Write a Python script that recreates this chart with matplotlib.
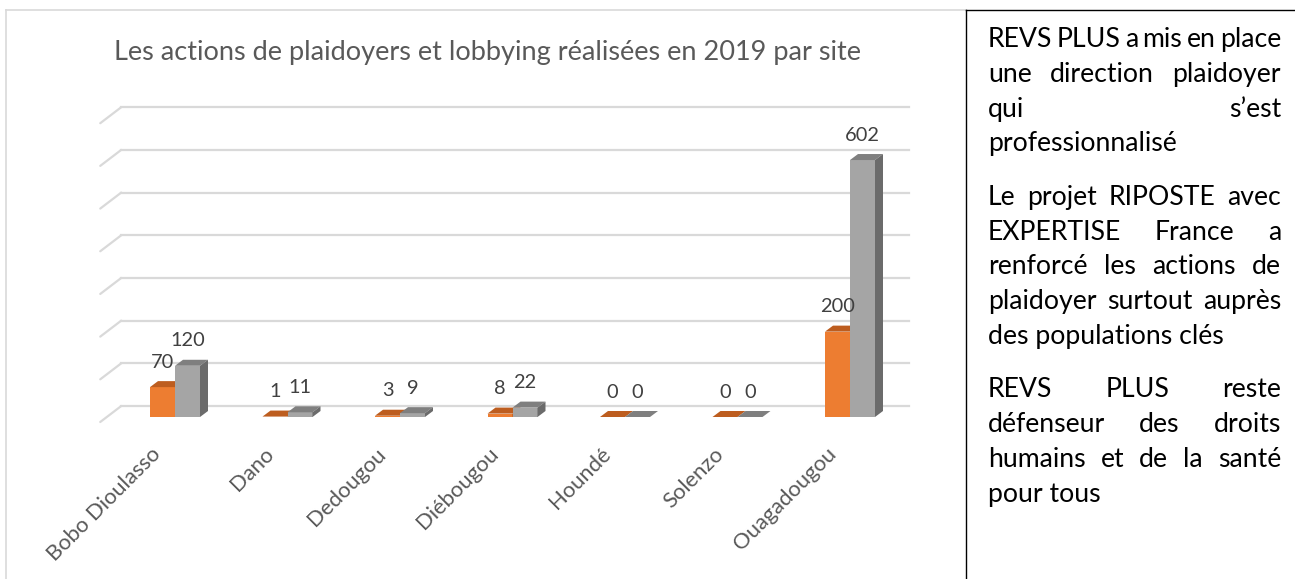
import matplotlib
matplotlib.use("Agg")
import matplotlib.pyplot as plt
import numpy as np
from matplotlib.patches import Polygon
from matplotlib.transforms import offset_copy
from matplotlib.lines import Line2D

# ---------------- data ----------------
categories = ["Bobo Dioulasso", "Dano", "Dedougou", "Diébougou", "Houndé", "Solenzo", "Ouagadougou"]
series_orange = [70, 1, 3, 8, 0, 0, 200]
series_gray = [120, 11, 9, 22, 0, 0, 602]
grid_values = [0, 100, 200, 300, 400, 500, 600, 700]
title = "Les actions de plaidoyers et lobbying réalisées en 2019 par site"
paragraphs = [
    ["REVS PLUS a mis en place", "une direction plaidoyer", "qui s’est", "professionnalisé"],
    ["Le projet RIPOSTE avec", "EXPERTISE France a", "renforcé les actions de",
     "plaidoyer surtout auprès", "des populations clés"],
    ["REVS PLUS reste", "défenseur des droits", "humains et de la santé", "pour tous"],
]

# ---------------- style ----------------
FONT = "Lato"
ORANGE, ORANGE_TOP, ORANGE_SIDE = "#ED7D31", "#BD5D1F", "#A9521A"
GRAY, GRAY_TOP, GRAY_SIDE = "#A5A5A5", "#7F7F7F", "#6B6B6B"
GRID = "#D9D9D9"
W, H = 1295, 579

plt.rcParams["font.family"] = [FONT, "DejaVu Sans"]
fig = plt.figure(figsize=(W / 100, H / 100), dpi=100)
renderer = fig.canvas.get_renderer()


def px(x, y):
    """pixel (from top-left) -> figure fraction"""
    return x / W, 1 - y / H


def text_width(s, size, **kw):
    t = fig.text(0, 0, s, fontsize=size, **kw)
    w = t.get_window_extent(renderer).width
    t.remove()
    return w


def fit(s, target, **kw):
    return 10 * target / text_width(s, 10, **kw)


# ---------------- chart axes ----------------
x0_px, x1_px = 118.75, 906.25      # xlim edges in pixels
y0_px, y1_px = 417.0, 118.2        # value 0 and 700 in pixels
ax = fig.add_axes([x0_px / W, 1 - y0_px / H, (x1_px - x0_px) / W, (y0_px - y1_px) / H])
ax.set_xlim(-0.5, len(categories) - 0.5)
ax.set_ylim(0, 700)
ax.axis("off")

# back-plane gridlines with perspective
back = offset_copy(ax.transData, fig=fig, x=2.5, y=11, units="dots")
xl, xr = ax.get_xlim()
for v in grid_values:
    ax.add_line(Line2D([xl, xr], [v, v], transform=offset_copy(ax.transData, fig=fig, x=2.5, y=11, units="dots"),
                       color=GRID, lw=1.6, zorder=1, clip_on=False))
    ax.annotate("", xy=(xl, v), xycoords=back, xytext=(-21, -16), textcoords="offset pixels",
                arrowprops=dict(arrowstyle="-", color=GRID, lw=1.6, shrinkA=0, shrinkB=0),
                annotation_clip=False, zorder=1)

x = np.arange(len(categories))
bw = 25 / 112.5
DEPTH = (8, 6)  # pixels


def shifted(pts):
    d = ax.transData.transform(pts) + np.array(DEPTH)
    return ax.transData.inverted().transform(d)


def bar3d(xc, vals, front, top, side, z):
    ax.bar(xc, vals, width=bw, color=front, zorder=z, linewidth=0)
    for xi, v in zip(xc, vals):
        a, b = xi - bw / 2, xi + bw / 2
        fr = np.array([[a, v], [b, v]])
        bk = shifted(fr)
        ax.add_patch(Polygon([fr[0], fr[1], bk[1], bk[0]], closed=True, color=top, lw=0, zorder=z))
        s = np.array([[b, 0], [b, v]])
        sb = shifted(s)
        ax.add_patch(Polygon([s[0], s[1], sb[1], sb[0]], closed=True, color=side, lw=0, zorder=z))


bar3d(x - bw / 2, series_orange, ORANGE, ORANGE_TOP, ORANGE_SIDE, 3)
bar3d(x + bw / 2, series_gray, GRAY, GRAY_TOP, GRAY_SIDE, 4)

# data labels
lab_size = fit("120", 35)
for xi, v in zip(x - bw / 2, series_orange):
    ax.annotate(str(v), xy=(xi, v), xytext=(0, 25), textcoords="offset pixels", ha="center", va="center",
                fontsize=lab_size, color="#404040", zorder=6, annotation_clip=False)
for xi, v in zip(x + bw / 2, series_gray):
    ax.annotate(str(v), xy=(xi, v), xytext=(0, 25), textcoords="offset pixels", ha="center", va="center",
                fontsize=lab_size, color="#404040", zorder=6, annotation_clip=False)

# category labels
cat_size = fit("Bobo Dioulasso", 152)
for xi, c in zip(x, categories):
    ax.annotate(c, xy=(xi, 0), xytext=(-17, -34), textcoords="offset pixels", rotation=45,
                rotation_mode="anchor", ha="right", va="center", fontsize=cat_size, color="#595959",
                annotation_clip=False)

# title
t_size = fit(title, 748)
fig.text(*px(488, 60), title, ha="center", va="baseline", fontsize=t_size, color="#595959")

# chart area border (light gray) and text box border (black)
fig.add_artist(Line2D([6 / W, 966 / W], [1 - 10 / H] * 2, transform=fig.transFigure, color=GRID, lw=1.2))
fig.add_artist(Line2D([6 / W, 6 / W], [1 - 10 / H, 0], transform=fig.transFigure, color=GRID, lw=1.2))
fig.add_artist(Line2D([966 / W, 966 / W], [1 - 10 / H, 0], transform=fig.transFigure, color="black", lw=1.0))
fig.add_artist(Line2D([966 / W, 1], [1 - 10 / H] * 2, transform=fig.transFigure, color="black", lw=1.0))

# justified paragraphs
left, right = 988, 1281
box_w = right - left
fits = sorted([fit("professionnalisé", 190), fit("des populations clés", 239), fit("pour tous", 113)])
body_size = fits[1]
# make sure the widest justified lines still fit with a minimal word gap
for line in ["REVS PLUS a mis en place", "plaidoyer surtout auprès", "renforcé les actions de"]:
    n = len(line.split(" ")) - 1
    body_size = min(body_size, fit(line.replace(" ", ""), box_w - n * 4))
line_gap, para_gap = 34.8, 53.3
y = 47
for p in paragraphs:
    for li, line in enumerate(p):
        last = li == len(p) - 1
        words = line.split(" ")
        if last or len(words) == 1:
            fig.text(*px(left, y), line, fontsize=body_size, ha="left", va="baseline", color="black")
        else:
            widths = [text_width(w_, body_size) for w_ in words]
            gap = (box_w - sum(widths)) / (len(words) - 1)
            xx = left
            for w_, wd in zip(words, widths):
                fig.text(*px(xx, y), w_, fontsize=body_size, ha="left", va="baseline", color="black")
                xx += wd + gap
        y += para_gap if last else line_gap

fig.savefig("out.png", dpi=100)
